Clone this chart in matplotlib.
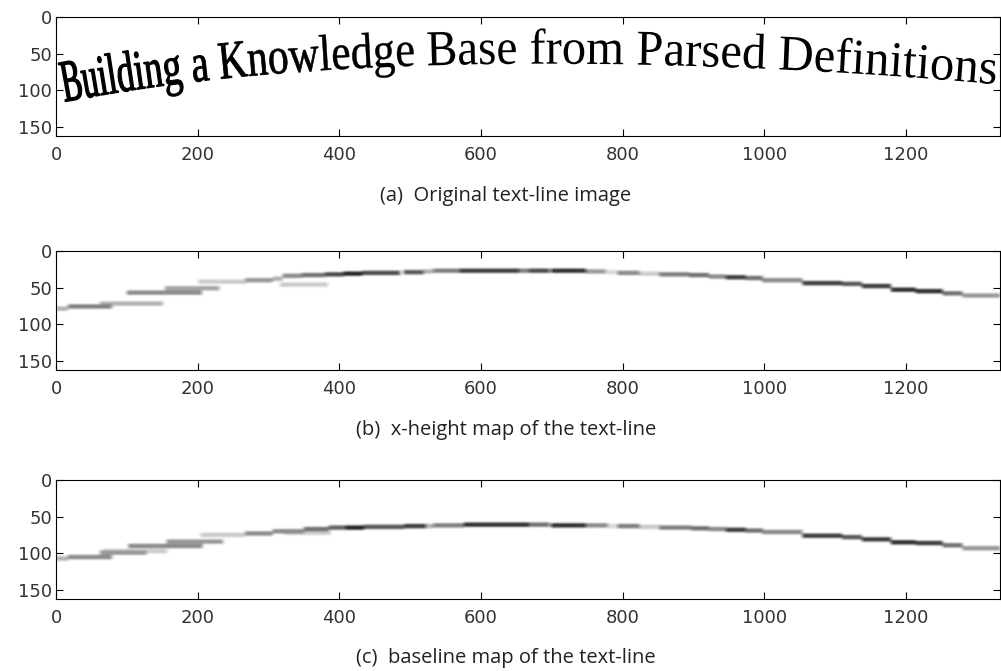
#Text-line image with its x-height and baseline maps

import numpy as np
import matplotlib
matplotlib.use('Agg')
import matplotlib.pyplot as plt
from matplotlib.textpath import TextPath
from matplotlib.patches import PathPatch
from matplotlib.path import Path
from matplotlib.font_manager import FontProperties, findfont, get_font

W, H = 1333, 163

line_text = "Building a Knowledge Base from Parsed Definitions"
captions = ["(a)  Original text-line image",
            "(b)  x-height map of the text-line",
            "(c)  baseline map of the text-line"]
yticks = [0, 50, 100, 150]
xticks = [0, 200, 400, 600, 800, 1000, 1200]

# x-height map segments: start, end, row, darkness
xh_x0 = [0, 17, 62, 100, 154, 201, 267, 306, 320, 316, 347, 380, 406, 432, 491, 519, 533, 570,
         627, 654, 668, 699, 748, 776, 793, 824, 852, 894, 922, 946, 974, 997, 1054, 1110, 1138,
         1179, 1214, 1252, 1280]
xh_x1 = [17, 79, 151, 206, 231, 269, 306, 320, 347, 384, 380, 406, 432, 486, 519, 533, 570, 627,
         654, 668, 697, 748, 776, 793, 824, 852, 894, 922, 946, 974, 998, 1054, 1110, 1138, 1179,
         1214, 1252, 1280, 1333]
xh_y = [79, 76, 72, 57, 51, 42, 40, 38, 34, 46, 33, 32, 31, 30, 29, 28, 27, 27,
        27, 27, 27, 27, 28, 29, 30, 31, 32, 33, 35, 36, 37, 40, 44, 45, 48,
        53, 55, 58, 61]
xh_v = [0.3, 0.5, 0.3, 0.45, 0.35, 0.2, 0.4, 0.3, 0.45, 0.2, 0.55, 0.7, 0.85, 0.7, 0.65, 0.3, 0.5, 0.75,
        0.75, 0.5, 0.7, 0.8, 0.4, 0.15, 0.45, 0.2, 0.5, 0.55, 0.45, 0.75, 0.55, 0.45, 0.75, 0.65, 0.75,
        0.8, 0.8, 0.55, 0.4]

# baseline map segments
bl_x0 = [0, 17, 62, 67, 102, 156, 204, 267, 306, 322, 350, 385, 409, 435, 492, 522, 533, 576,
         627, 668, 699, 748, 779, 793, 824, 852, 897, 922, 946, 974, 997, 1054, 1110, 1138, 1179,
         1214, 1252, 1280]
bl_x1 = [17, 79, 128, 157, 207, 236, 267, 306, 350, 388, 385, 409, 435, 492, 522, 533, 576, 627,
         668, 697, 748, 779, 793, 824, 852, 897, 922, 946, 974, 998, 1054, 1110, 1138, 1179, 1214,
         1252, 1280, 1333]
bl_y = [108, 106, 100, 98, 91, 85, 76, 74, 71, 73, 68, 66, 66, 65, 64, 64, 63, 62,
        62, 62, 63, 63, 64, 64, 65, 66, 67, 68, 69, 70, 72, 77, 79, 82, 86,
        87, 90, 94]
bl_v = [0.3, 0.45, 0.4, 0.2, 0.45, 0.4, 0.2, 0.45, 0.45, 0.2, 0.55, 0.6, 0.85, 0.65, 0.75, 0.3, 0.5, 0.8,
        0.8, 0.55, 0.8, 0.45, 0.15, 0.5, 0.2, 0.5, 0.55, 0.45, 0.75, 0.55, 0.45, 0.75, 0.65, 0.75, 0.8,
        0.75, 0.55, 0.4]


def segmap(x0, x1, y, v, half=3):
    img = np.zeros((H, W))
    for a, b, c, d in zip(x0, x1, y, v):
        r0, r1 = int(round(c - half)), int(round(c + half))
        img[r0:r1, a:b] = np.maximum(img[r0:r1, a:b], d)
    # soften like the scanned original
    kx = np.ones(7) / 7
    ky = np.array([1, 2, 3, 2, 1]) / 9
    img = np.apply_along_axis(lambda r: np.convolve(r, kx, mode='same'), 1, img)
    img = np.apply_along_axis(lambda c: np.convolve(c, ky, mode='same'), 0, img)
    return img


def curved_text(ax, s, xc, yc, x_start, x_end):
    fp = FontProperties(family='Liberation Serif')
    font = get_font(findfont(fp))
    font.set_size(100, 72)
    adv = np.array([font.load_char(ord(c)).linearHoriAdvance / 65536 for c in s])
    # text sits a little below the map on the left and above it on the right
    xc = np.asarray(xc, float)
    yc = np.asarray(yc, float) + np.interp(xc, [0, 600, 1333], [5, 3, -4])
    p = np.polyfit(xc, yc, 4)
    dp = np.polyder(p)
    xs = np.linspace(0, W, 5000)
    ys = np.polyval(p, xs)
    arc = np.concatenate([[0], np.cumsum(np.hypot(np.diff(xs), np.diff(ys)))])
    s0, s1 = np.interp([x_start, x_end], xs, arc)

    def place(hs):
        cum = np.concatenate([[0], np.cumsum(adv * hs)])
        k = (s1 - s0) / cum[-1]
        return np.interp(s0 + k * cum[:-1], arc, xs), k

    # left part of the scan is squeezed, taller and heavier
    sq_x, sq_h = [0, 150, 400, 700], [0.62, 0.78, 0.9, 1.0]
    xpos, k = place(np.ones(len(s)))
    for _ in range(3):
        hs = np.interp(xpos, sq_x, sq_h)
        xpos, k = place(hs)
    hs = np.interp(xpos, sq_x, sq_h)
    vs = np.interp(xpos, [0, 150, 400], [1.2, 1.1, 1.0])
    lw = np.interp(xpos, [0, 300, 600], [1.0, 0.5, 0.0])
    for i, c in enumerate(s):
        if c == ' ':
            continue
        x = xpos[i]
        y = np.polyval(p, x)
        th = np.arctan(-np.polyval(dp, x))
        tp = TextPath((0, 0), c, size=100, prop=fp)
        gx = tp.vertices[:, 0] * k * hs[i]
        gy = tp.vertices[:, 1] * k * vs[i]
        cs, sn = np.cos(th), np.sin(th)
        vx = x + gx * cs - gy * sn
        vy = y - (gx * sn + gy * cs)
        ax.add_patch(PathPatch(Path(np.column_stack([vx, vy]), tp.codes),
                               facecolor='black', edgecolor='black', linewidth=lw[i],
                               zorder=3))


fig = plt.figure(figsize=(10.01, 6.71), dpi=100)
bottoms = [1 - 136 / 671, 1 - 370 / 671, 1 - 599 / 671]
axes = [fig.add_axes([56 / 1001, b, 944 / 1001, 119 / 671]) for b in bottoms]

axes[0].imshow(np.zeros((H, W)), cmap='gray_r', vmin=0, vmax=1, aspect='auto',
               extent=(0, W, H, 0))
mids = [(a + b) / 2 for a, b in zip(bl_x0, bl_x1)]
curved_text(axes[0], line_text, mids, bl_y, 12, 1328)

axes[1].imshow(segmap(xh_x0, xh_x1, xh_y, xh_v), cmap='gray_r', vmin=0, vmax=1,
               aspect='auto', interpolation='bilinear', extent=(0, W, H, 0))
axes[2].imshow(segmap(bl_x0, bl_x1, bl_y, bl_v), cmap='gray_r', vmin=0, vmax=1,
               aspect='auto', interpolation='bilinear', extent=(0, W, H, 0))

cap_y = [1 - 196 / 671, 1 - 430 / 671, 1 - 658 / 671]
for ax, cap, cy in zip(axes, captions, cap_y):
    ax.set_xlim(0, W)
    ax.set_ylim(H, 0)
    ax.set_xticks(xticks)
    ax.set_yticks(yticks)
    ax.tick_params(direction='in', top=True, right=True, length=5, labelsize=13,
                   labelcolor='#333333')
    ax.tick_params(axis='x', pad=7)
    ax.tick_params(axis='y', pad=3)
    fig.text(506 / 1001, cy, cap, ha='center', va='center', fontsize=14.5,
             family='Open Sans', color='#222222')

fig.savefig('out.png', dpi=100)
